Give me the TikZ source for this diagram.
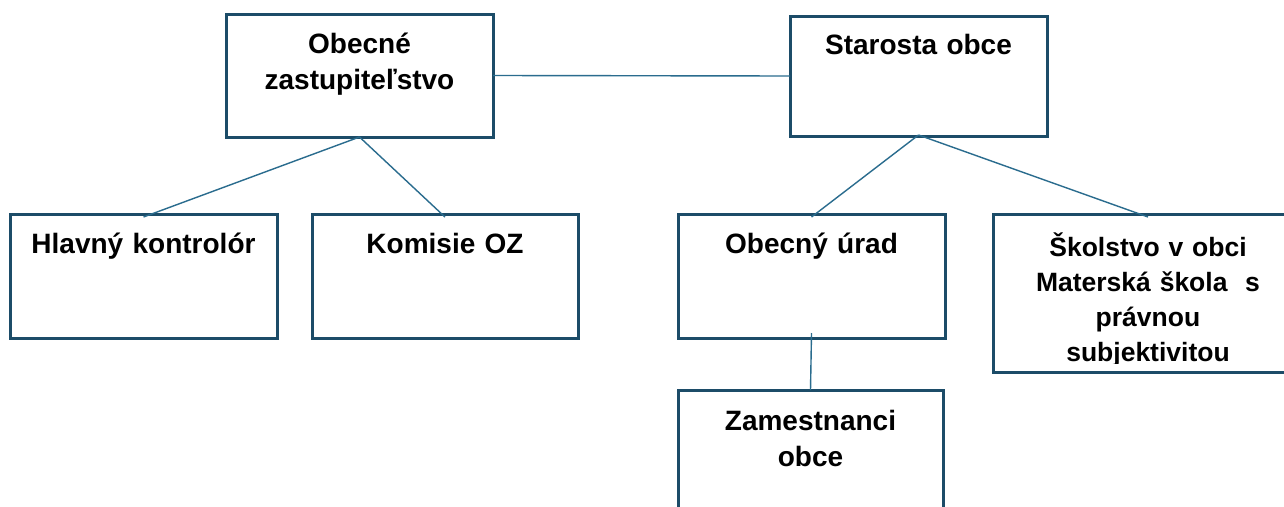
\documentclass[tikz,border=0pt]{standalone}
\usepackage{fontspec}
\setmainfont{Liberation Sans}
\usetikzlibrary{calc}
\definecolor{boxline}{RGB}{28,76,104}
\definecolor{conn}{RGB}{42,108,142}
\tikzset{
  orgbox/.style={draw=boxline, line width=3pt, fill=white, rectangle, inner sep=0pt, outer sep=0pt},
  orgtxt/.style={anchor=base, text width=300pt, align=center, inner sep=0pt,
                 font=\fontsize{28}{36}\selectfont\bfseries},
  smalltxt/.style={orgtxt, font=\fontsize{26.5}{35}\selectfont\bfseries},
  link/.style={draw=conn, line width=1.4pt}
}
\begin{document}
\begin{tikzpicture}[x=1pt,y=-1pt]
\clip (0,0) rectangle (1284,506);
\fill[white] (0,0) rectangle (1284,506);
% boxes
\node[orgbox, minimum width=267pt, minimum height=123pt] (oz)  at (359.5,75.5) {};
\node[orgbox, minimum width=257pt, minimum height=120pt] (st)  at (918.5,76) {};
\node[orgbox, minimum width=267pt, minimum height=124pt] (hk)  at (143.5,276) {};
\node[orgbox, minimum width=266pt, minimum height=124pt] (ko)  at (445,276) {};
\node[orgbox, minimum width=267pt, minimum height=124pt] (ou)  at (811.5,276) {};
\node[orgbox, minimum width=310pt, minimum height=158pt] (sk)  at (1148,293) {};
\node[orgbox, minimum width=265pt, minimum height=124pt] (zam) at (810.5,452) {};
% texts
\node[orgtxt] (ozt)  at (359.5,53) {Obecné\\zastupiteľstvo};
\node[orgtxt] (stt)  at (918.5,54) {Starosta obce};
\node[orgtxt] (hkt)  at (143.5,253) {Hlavný kontrolór};
\node[orgtxt] (kot)  at (445,253) {Komisie OZ};
\node[orgtxt] (out)  at (811.5,253) {Obecný úrad};
\node[orgtxt] (zamt) at (810.5,430) {Zamestnanci\\obce};
\begin{scope}
\clip (993,214) rectangle (1303,363);
\node[smalltxt] (skt) at (1148,256) {Školstvo v obci\\Materská škola\ \ s\\právnou\\subjektivitou};
\end{scope}
% connectors
\draw[link] (oz.east) -- (st.west);
\draw[link] (oz.south) -- ([yshift=-3pt]hk.north);
\draw[link] (oz.south) -- ([yshift=-3pt]ko.north);
\draw[link] ([yshift=1pt]st.south) -- ([yshift=-3pt]ou.north);
\draw[link] ([yshift=1pt]st.south) -- ([yshift=-3pt]sk.north);
\draw[link] ([yshift=5pt]ou.south) -- (zam.north);
\end{tikzpicture}
\end{document}
